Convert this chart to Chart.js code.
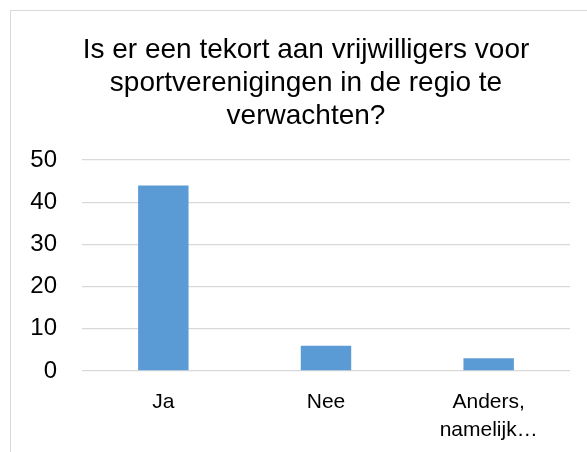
<!DOCTYPE html>
<html>
<head>
<meta charset="utf-8">
<script src="https://cdn.jsdelivr.net/npm/chart.js@4.4.0/dist/chart.umd.min.js"></script>
<style>
  html, body { margin:0; padding:0; background:#fff; overflow:hidden; }
  #box { position:absolute; left:10px; top:10px; width:590px; height:460px; border:1px solid #d9d9d9; }
  #c { display:block; }
</style>
</head>
<body>
<div id="box"><canvas id="c" width="590" height="460"></canvas></div>
<script>
// data
const titel = ['Is er een tekort aan vrijwilligers voor', 'sportverenigingen in de regio te', 'verwachten?'];
const categorieen = ['Ja', 'Nee', ['Anders,', 'namelijk…']];
const aantallen = [44, 6, 3];
const yTicks = [0, 10, 20, 30, 40, 50];

const lettertype = "'Liberation Sans', Arial, sans-serif";
Chart.defaults.font.family = lettertype;
Chart.defaults.color = '#000';

new Chart(document.getElementById('c').getContext('2d'), {
  type: 'bar',
  data: {
    labels: categorieen,
    datasets: [{
      data: aantallen,
      backgroundColor: '#5b9bd5',
      borderWidth: 0,
      barPercentage: 0.31,
      categoryPercentage: 1
    }]
  },
  options: {
    responsive: false,
    animation: false,
    layout: { padding: 0 },
    plugins: {
      legend: { display: false },
      tooltip: { enabled: false },
      title: {
        display: true,
        text: titel,
        color: '#000',
        font: { size: 28, weight: 'normal', lineHeight: 1.18 },
        padding: { top: 23, bottom: 27 }
      }
    },
    scales: {
      x: {
        grid: { display: false, drawTicks: false },
        border: { display: false },
        ticks: { font: { size: 21, lineHeight: 1.3 }, padding: 18, maxRotation: 0, autoSkip: false },
        afterFit: s => { s.height = 100; }
      },
      y: {
        min: 0, max: 50,
        afterBuildTicks: s => { s.ticks = yTicks.map(v => ({ value: v })); },
        grid: { color: '#d9d9d9', lineWidth: 1.3, drawTicks: false },
        border: { display: false },
        ticks: { font: { size: 24 }, padding: 25 },
        afterFit: s => { s.width = 71; }
      },
      // lege as rechts: houdt ruimte vrij zodat de titel midden in de kader blijft
      rechts: {
        position: 'right',
        min: 0, max: 50,
        grid: { display: false, drawTicks: false },
        border: { display: false },
        ticks: { display: false },
        afterFit: s => { s.width = 31; }
      }
    }
  }
});
</script>
</body>
</html>
